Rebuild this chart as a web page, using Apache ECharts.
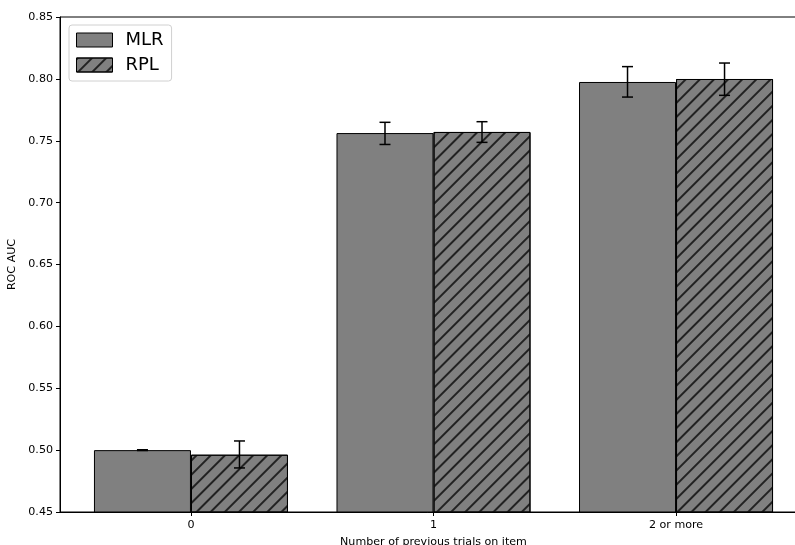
<!DOCTYPE html>
<html>
<head>
<meta charset="utf-8">
<script src="https://cdn.jsdelivr.net/npm/echarts@6/dist/echarts.min.js"></script>
<style>html,body{margin:0;padding:0;background:#fff;overflow:hidden;}#c{width:795px;height:545px;}</style>
</head>
<body>
<div id="c"></div>
<script>
const categories = ['0', '1', '2 or more'];
const seriesNames = ['MLR', 'RPL'];
const mlrValues = [0.5000, 0.7562, 0.7975];
const rplValues = [0.4963, 0.7571, 0.7999];
const mlrErrLow = [0.4997, 0.7470, 0.7853];
const mlrErrHigh = [0.5003, 0.7649, 0.8099];
const rplErrLow = [0.4856, 0.7487, 0.7867];
const rplErrHigh = [0.5074, 0.7654, 0.8128];
const yTicks = [0.45, 0.50, 0.55, 0.60, 0.65, 0.70, 0.75, 0.80, 0.85];

const FONT = 'DejaVu Sans';
const SMALL = 11.1;
const chart = echarts.init(document.getElementById('c'), null, {renderer: 'canvas'});

function errSeries(name, low, high, off) {
  return {
    type: 'custom',
    name: name + ' err',
    coordinateSystem: 'cartesian2d',
    z: 10,
    silent: true,
    encode: {x: 0, y: [1, 2]},
    data: low.map((v, i) => [i, v, high[i]]),
    renderItem: function (params, api) {
      const x = api.value(0) + off;
      const lo = api.coord([x, api.value(1)]);
      const hi = api.coord([x, api.value(2)]);
      const w = 5.5;
      const st = {stroke: '#000', lineWidth: 1.5};
      return {
        type: 'group',
        children: [
          {type: 'line', shape: {x1: lo[0], y1: lo[1], x2: hi[0], y2: hi[1]}, style: st},
          {type: 'line', shape: {x1: lo[0] - w, y1: lo[1], x2: lo[0] + w, y2: lo[1]}, style: st},
          {type: 'line', shape: {x1: hi[0] - w, y1: hi[1], x2: hi[0] + w, y2: hi[1]}, style: st}
        ]
      };
    }
  };
}

const option = {
  animation: false,
  backgroundColor: '#fff',
  grid: {left: 60, top: 17, bottom: 33, width: 747, outerBoundsMode: 'none', containLabel: false,
    show: true, borderColor: '#000', borderWidth: 1, backgroundColor: 'transparent'},
  legend: {
    data: seriesNames,
    orient: 'vertical',
    left: 69, top: 25,
    padding: [6, 8, 7, 7],
    itemWidth: 36, itemHeight: 14, itemGap: 7,
    icon: 'rect',
    backgroundColor: 'rgba(255,255,255,0.8)',
    borderColor: '#d0d0d0', borderWidth: 1, borderRadius: 3,
    itemStyle: {borderWidth: 1},
    textStyle: {fontFamily: FONT, fontSize: 18, color: '#000', padding: [0, 0, 0, 8]}
  },
  xAxis: {
    type: 'value',
    min: -0.54, max: 2.54,
    name: 'Number of previous trials on item',
    nameLocation: 'middle',
    nameGap: 25,
    nameTextStyle: {fontFamily: FONT, fontSize: SMALL, color: '#000', verticalAlign: 'top'},
    axisLine: {show: true, onZero: false, lineStyle: {color: '#000', width: 1}},
    axisTick: {show: true, length: 4, lineStyle: {color: '#000'}, customValues: [0, 1, 2]},
    axisLabel: {fontFamily: FONT, fontSize: SMALL, color: '#000', margin: 8, customValues: [0, 1, 2],
      formatter: v => categories[Math.round(v)]},
    splitLine: {show: false}
  },
  yAxis: {
    type: 'value',
    min: 0.45, max: 0.85,
    name: 'ROC AUC',
    nameLocation: 'middle',
    nameGap: 31,
    nameRotate: 90,
    nameTextStyle: {fontFamily: FONT, fontSize: SMALL, color: '#000'},
    axisLine: {show: true, onZero: false, lineStyle: {color: '#000', width: 1}},
    axisTick: {show: true, length: 4, lineStyle: {color: '#000'}, customValues: yTicks},
    axisLabel: {fontFamily: FONT, fontSize: SMALL, color: '#000', margin: 7, customValues: yTicks,
      formatter: v => v.toFixed(2)},
    splitLine: {show: false}
  },
  series: [
    {
      type: 'bar', name: 'MLR',
      data: mlrValues.map((v, i) => [i, v]),
      barWidth: '40%', barGap: '0%',
      itemStyle: {color: '#808080', borderColor: '#000', borderWidth: 1}
    },
    {
      type: 'bar', name: 'RPL',
      data: rplValues.map((v, i) => [i, v]),
      barWidth: '40%', barGap: '0%',
      itemStyle: {color: '#808080', borderColor: '#000', borderWidth: 1,
        decal: {symbol: 'rect', symbolSize: 1, dashArrayX: [1, 0], dashArrayY: [1.2, 8], rotation: -Math.PI / 4, color: '#222'}}
    },
    errSeries('MLR', mlrErrLow, mlrErrHigh, -0.2),
    errSeries('RPL', rplErrLow, rplErrHigh, 0.2)
  ]
};
chart.setOption(option);
</script>
</body>
</html>
